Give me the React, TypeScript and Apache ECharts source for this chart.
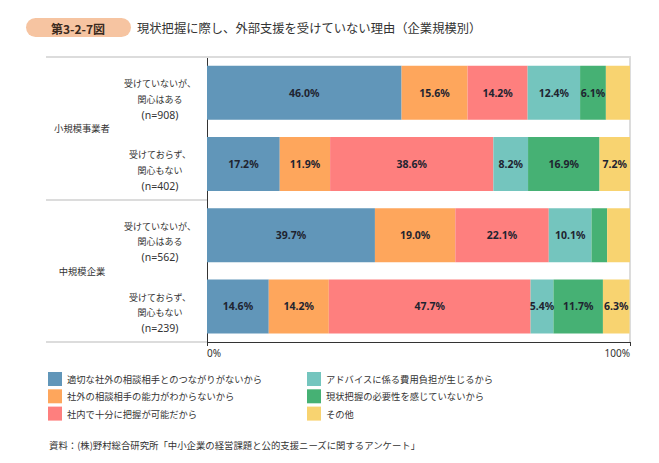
import React, { useEffect, useRef } from "react";
import * as echarts from "echarts";

const CJK = '"Noto Sans CJK JP", "Noto Sans", sans-serif';

const rowLabels = [
  "受けていないが、\n関心はある\n(n=908)",
  "受けておらず、\n関心もない\n(n=402)",
  "受けていないが、\n関心はある\n(n=562)",
  "受けておらず、\n関心もない\n(n=239)",
];
const groupLabels = ["小規模事業者", "中規模企業"];

const seriesNames = [
  "適切な社外の相談相手とのつながりがないから",
  "社外の相談相手の能力がわからないから",
  "社内で十分に把握が可能だから",
  "アドバイスに係る費用負担が生じるから",
  "現状把握の必要性を感じていないから",
  "その他",
];
const seriesColors = ["#6196B9", "#FEA65C", "#FE7F7E", "#74C5BE", "#46B174", "#F8D370"];

const s1 = [46.0, 17.2, 39.7, 14.6];
const s2 = [15.6, 11.9, 19.0, 14.2];
const s3 = [14.2, 38.6, 22.1, 47.7];
const s4 = [12.4, 8.2, 10.1, 5.4];
const s5 = [6.1, 16.9, 3.7, 11.7];
const s6 = [5.7, 7.2, 5.4, 6.3];
const seriesValues = [s1, s2, s3, s4, s5, s6];
// [seriesIndex, rowIndex] of segments whose value label is not printed
const hiddenLabels = [[5, 0], [4, 2], [5, 2]];

const xTicks = ["0%", "100%"];
const titleTag = "第3-2-7図";
const titleText = "現状把握に際し、外部支援を受けていない理由（企業規模別）";
const sourceText = "資料：(株)野村総合研究所「中小企業の経営課題と公的支援ニーズに関するアンケート」";

export default function App() {
  const ref = useRef<HTMLDivElement>(null);
  useEffect(() => {
    if (!ref.current) return;
    const chart = echarts.init(ref.current, null, { renderer: "svg" });
    const series = seriesValues.map((vals, si) => ({
      type: "bar",
      name: seriesNames[si],
      stack: "total",
      barWidth: 54,
      xAxisIndex: 0,
      yAxisIndex: 0,
      itemStyle: { color: seriesColors[si] },
      label: {
        show: true,
        position: "inside",
        fontSize: 10.5,
        fontWeight: "bold",
        color: "#1f2430",
        fontFamily: '"Noto Sans", sans-serif',
        formatter: (p: any) => Number(p.value).toFixed(1) + "%",
      },
      data: vals.map((v, ri) => {
        const hide = hiddenLabels.some(([a, b]) => a === si && b === ri);
        return hide ? { value: v, label: { show: false } } : v;
      }),
    }));
    const legendBase = {
      orient: "vertical",
      top: 372,
      itemWidth: 14,
      itemHeight: 14,
      itemGap: 3.3,
      icon: "rect",
      padding: 0,
      selectedMode: false,
      textStyle: { fontSize: 9.3, color: "#333", fontFamily: CJK },
    };
    chart.setOption({
      animation: false,
      textStyle: { fontFamily: CJK },
      grid: { left: 207, right: 29, top: 57, bottom: 121, containLabel: false },
      xAxis: [
        {
          type: "value",
          min: 0,
          max: 100,
          interval: 100,
          position: "bottom",
          axisLine: { show: true, lineStyle: { color: "#333", width: 1 } },
          axisTick: { show: true, length: 4, lineStyle: { color: "#333" } },
          splitLine: { show: false },
          axisLabel: {
            fontSize: 10,
            color: "#333",
            margin: 6,
            fontFamily: '"Noto Sans", sans-serif',
            alignMinLabel: "left",
            alignMaxLabel: "right",
            formatter: (v: number) => (v === 0 ? xTicks[0] : xTicks[1]),
          },
        },
        {
          type: "value",
          min: 0,
          max: 100,
          position: "top",
          axisLine: { show: true, lineStyle: { color: "#dcdcdc", width: 2 } },
          axisTick: { show: false },
          axisLabel: { show: false },
          splitLine: { show: false },
        },
      ],
      yAxis: [
        {
          type: "category",
          data: rowLabels,
          inverse: true,
          axisLine: { show: true, lineStyle: { color: "#333", width: 1 } },
          axisTick: { show: false },
          axisLabel: {
            align: "center",
            margin: 47,
            color: "#333",
            padding: [13, 0, 0, 0],
            formatter: (v: string) => {
              const parts = v.split("\n");
              return `{j|${parts[0]}}\n{j|${parts[1]}}\n{n|${parts[2]}}`;
            },
            rich: {
              j: { fontSize: 9, lineHeight: 15.5, color: "#333", fontFamily: CJK },
              n: { fontSize: 10.5, lineHeight: 15.5, color: "#333", fontFamily: '"Noto Sans", sans-serif' },
            },
          },
        },
        {
          type: "category",
          data: groupLabels,
          inverse: true,
          position: "left",
          axisLine: { show: false },
          axisTick: { show: true, length: 161, lineStyle: { color: "#dcdcdc", width: 2 } },
          axisLabel: {
            align: "center",
            margin: 125,
            fontSize: 9.3,
            color: "#333",
            fontFamily: CJK,
          },
        },
        {
          type: "value",
          position: "right",
          axisLine: { show: true, lineStyle: { color: "#dcdcdc", width: 2 } },
          axisTick: { show: false },
          axisLabel: { show: false },
          splitLine: { show: false },
        },
      ],
      legend: [
        { ...legendBase, left: 48, data: seriesNames.slice(0, 3) },
        { ...legendBase, left: 307, data: seriesNames.slice(3, 6) },
      ],
      graphic: [
        {
          type: "rect",
          shape: { x: 26, y: 18, width: 105, height: 19, r: 9.5 },
          style: { fill: "#F6C4A1" },
        },
        {
          type: "text",
          x: 78,
          y: 28,
          style: {
            text: titleTag,
            fontSize: 12,
            fontWeight: "bold",
            fill: "#3a2a20",
            align: "center",
            verticalAlign: "middle",
            fontFamily: CJK,
          },
        },
        {
          type: "text",
          x: 137,
          y: 28,
          style: {
            text: titleText,
            fontSize: 12.3,
            fill: "#333",
            align: "left",
            verticalAlign: "middle",
            fontFamily: CJK,
          },
        },
        {
          type: "text",
          x: 49,
          y: 445,
          style: {
            text: sourceText,
            fontSize: 9.4,
            fill: "#333",
            align: "left",
            verticalAlign: "middle",
            fontFamily: CJK,
          },
        },
      ],
      series,
    });
    return () => chart.dispose();
  }, []);
  return (
    <div
      ref={ref}
      style={{ position: "fixed", left: 0, top: 0, width: 659, height: 463, background: "#fff" }}
    />
  );
}
